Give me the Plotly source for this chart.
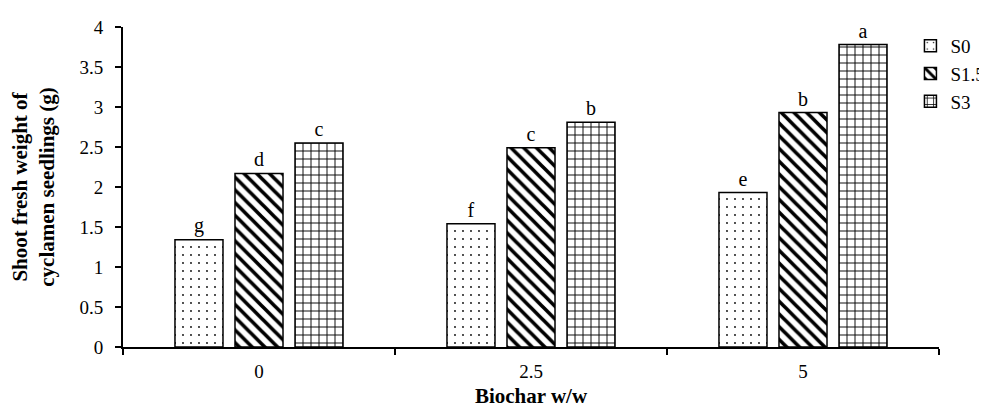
import plotly.graph_objects as go

categories = ["0", "2.5", "5"]
series_names = ["S0", "S1.5", "S3"]
s0_values = [1.34, 1.54, 1.93]
s15_values = [2.17, 2.49, 2.93]
s3_values = [2.55, 2.81, 3.78]
s0_letters = ["g", "f", "e"]
s15_letters = ["d", "c", "b"]
s3_letters = ["c", "b", "a"]
y_ticks = [0, 0.5, 1, 1.5, 2, 2.5, 3, 3.5, 4]

FONT = "Liberation Serif, Times New Roman, serif"

series = [
    (series_names[0], s0_values, s0_letters, dict(shape=".", size=8, solidity=0.04)),
    (series_names[1], s15_values, s15_letters, dict(shape="\\", size=9, solidity=0.4)),
    (series_names[2], s3_values, s3_letters, dict(shape="+", size=8, solidity=0.22)),
]

fig = go.Figure()
for name, vals, letters, pat in series:
    fig.add_trace(go.Bar(
        x=categories, y=vals, name=name,
        text=letters, textposition="outside",
        textfont=dict(family=FONT, size=20, color="black"),
        cliponaxis=False,
        marker=dict(color="white", line=dict(color="black", width=1.5),
                    pattern=dict(fgcolor="black", bgcolor="white", fillmode="replace", **pat)),
    ))

# page body has an 8px default margin, so the figure is sized to fit inside the window
fig.update_layout(
    width=979, height=400,
    margin=dict(l=115, r=48, t=19, b=61, autoexpand=False),
    paper_bgcolor="white", plot_bgcolor="white",
    barmode="group", bargap=0.338, bargroupgap=0.2,
    font=dict(family=FONT, size=19, color="black"),
    showlegend=True,
    legend=dict(x=0.965, y=1.0, xanchor="left", yanchor="top",
                font=dict(family=FONT, size=19, color="black"),
                bgcolor="rgba(0,0,0,0)", itemwidth=30, tracegroupgap=2),
    xaxis=dict(
        type="category", tickson="boundaries", ticks="outside", ticklen=6, tickwidth=1.5,
        tickcolor="black", showline=True, linecolor="black", linewidth=2,
        showgrid=False, zeroline=False, automargin=False, ticklabelstandoff=6,
        tickfont=dict(family=FONT, size=19, color="black"),
        title=dict(text="<b>Biochar w/w</b>", font=dict(family=FONT, size=21, color="black"), standoff=18),
    ),
    yaxis=dict(
        range=[0, 4], tickvals=y_ticks, ticktext=[f"{v:g}" for v in y_ticks],
        ticks="outside", ticklen=6, tickwidth=1.5, tickcolor="black",
        showline=True, linecolor="black", linewidth=2,
        showgrid=False, zeroline=False, automargin=False, ticklabelstandoff=8,
        tickfont=dict(family=FONT, size=19, color="black"),
        title=dict(text="<b>Shoot fresh weight of<br>cyclamen seedlings (g)</b>",
                   font=dict(family=FONT, size=21, color="black"), standoff=22),
    ),
)

fig.write_html("out.html")
